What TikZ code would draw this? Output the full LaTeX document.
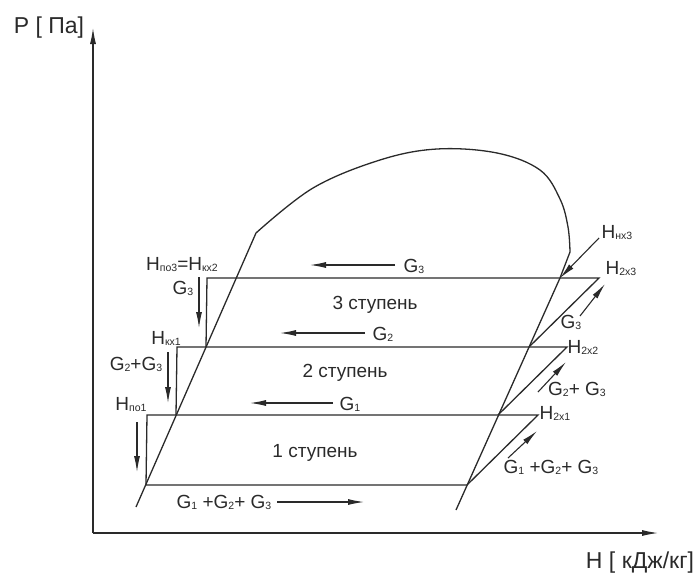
\documentclass[tikz,border=0pt]{standalone}
\usepackage{fontspec}
\setmainfont{Liberation Sans}
\usetikzlibrary{arrows.meta}
\newcommand\sbs[1]{\raisebox{-1pt}{\fontsize{10.5}{10.5}\selectfont #1}}
\definecolor{ink}{HTML}{2A2A2A}
\tikzset{
  ln/.style={draw=ink, line width=1.3pt, line join=miter},
  arr/.style={draw=ink, line width=1.1pt, -{Latex[length=16pt,width=6pt]}},
  lbl/.style={font=\fontsize{19}{22}\selectfont, text=ink, inner sep=0pt},
  axl/.style={font=\fontsize{23}{26}\selectfont, text=ink, inner sep=0pt},
}
\begin{document}
\begin{tikzpicture}[x=1pt,y=-1pt]
\useasboundingbox (0,0) rectangle (698,576);
% axes
\coordinate (O) at (93,533);
\coordinate (Ytop) at (93,28);
\coordinate (Xend) at (658,533);
\draw[arr] (O) -- (Ytop);
\draw[arr] (O) -- (Xend);
\node[axl] (ylab) at (49,28) {P [ Па]};
\node[axl] (xlab) at (640,563) {H [ кДж/кг]};
% key points
\coordinate (Lb) at (136,507);
\coordinate (L1) at (146,485);
\coordinate (L2) at (176,415);
\coordinate (L3) at (206,347);
\coordinate (Lt) at (256,233);
\coordinate (Vk) at (570,252);
\coordinate (V4) at (560,278);
\coordinate (V3) at (529,347);
\coordinate (V2) at (498,415);
\coordinate (V1) at (467,485);
\coordinate (Vb) at (456,510);
\coordinate (A1) at (147,415);
\coordinate (A2) at (177,347);
\coordinate (A3) at (207,278);
\coordinate (E1) at (538,415);
\coordinate (E2) at (567,347);
\coordinate (E3) at (599,278);
% saturation dome
\draw[ln] (Lb) -- (Lt) plot[smooth, tension=0.6] coordinates {(256,233) (313,188) (380,160) (437,149) (497,153) (540,170) (560,199) (568,227) (570,252)} -- (V4) -- (Vb);
% stages
\draw[ln] (L1) -- (V1) -- (E1) -- (A1) -- (L1);
\draw[ln] (V2) -- (E2) -- (A2) -- (L2);
\draw[ln] (V3) -- (E3) -- (A3) -- (L3);
% flow arrows
\coordinate (g3a) at (395,265); \coordinate (g3b) at (310,265);
\coordinate (g2a) at (365,333); \coordinate (g2b) at (280,333);
\coordinate (g1a) at (333,403); \coordinate (g1b) at (250,403);
\coordinate (gba) at (277,502); \coordinate (gbb) at (364,502);
\draw[arr] (g3a) -- (g3b);
\draw[arr] (g2a) -- (g2b);
\draw[arr] (g1a) -- (g1b);
\draw[arr] (gba) -- (gbb);
\coordinate (d3a) at (199,277); \coordinate (d3b) at (199,328);
\coordinate (d2a) at (168,352); \coordinate (d2b) at (168,403);
\coordinate (d1a) at (137,422); \coordinate (d1b) at (137,472);
\draw[arr] (d3a) -- (d3b);
\draw[arr] (d2a) -- (d2b);
\draw[arr] (d1a) -- (d1b);
\coordinate (r3a) at (580,316); \coordinate (r3b) at (605,284);
\coordinate (r2a) at (538,392); \coordinate (r2b) at (566,362);
\coordinate (r1a) at (508,458); \coordinate (r1b) at (537,431);
\draw[arr] (r3a) -- (r3b);
\draw[arr] (r2a) -- (r2b);
\draw[arr] (r1a) -- (r1b);
\coordinate (hn) at (599,238);
\draw[arr] (hn) -- (V4);
% labels
\node[lbl] (t3) at (375,305) {3 ступень};
\node[lbl] (t2) at (345,373) {2 ступень};
\node[lbl] (t1) at (315,453) {1 ступень};
\node[lbl] (lg3) at (414,266) {G\sbs{3}};
\node[lbl] (lg2) at (383,334) {G\sbs{2}};
\node[lbl] (lg1) at (350,404) {G\sbs{1}};
\node[lbl] (lgb) at (224,502) {G\sbs{1} +G\sbs{2}+ G\sbs{3}};
\node[lbl] (hpo3) at (182,265) {H\sbs{по3}=H\sbs{кх2}};
\node[lbl] (lg3d) at (183,288) {G\sbs{3}};
\node[lbl] (hkx1) at (166,338) {H\sbs{кх1}};
\node[lbl] (lg23d) at (136,364) {G\sbs{2}+G\sbs{3}};
\node[lbl] (hpo1) at (131,405) {H\sbs{по1}};
\node[lbl] (hnx3) at (617,233) {H\sbs{нх3}};
\node[lbl] (h2x3) at (621,269) {H\sbs{2х3}};
\node[lbl] (lg3r) at (571,322) {G\sbs{3}};
\node[lbl] (h2x2) at (583,347) {H\sbs{2х2}};
\node[lbl] (lg23r) at (577,389) {G\sbs{2}+ G\sbs{3}};
\node[lbl] (h2x1) at (555,413) {H\sbs{2х1}};
\node[lbl] (lg123r) at (551,467) {G\sbs{1} +G\sbs{2}+ G\sbs{3}};
\end{tikzpicture}
\end{document}
